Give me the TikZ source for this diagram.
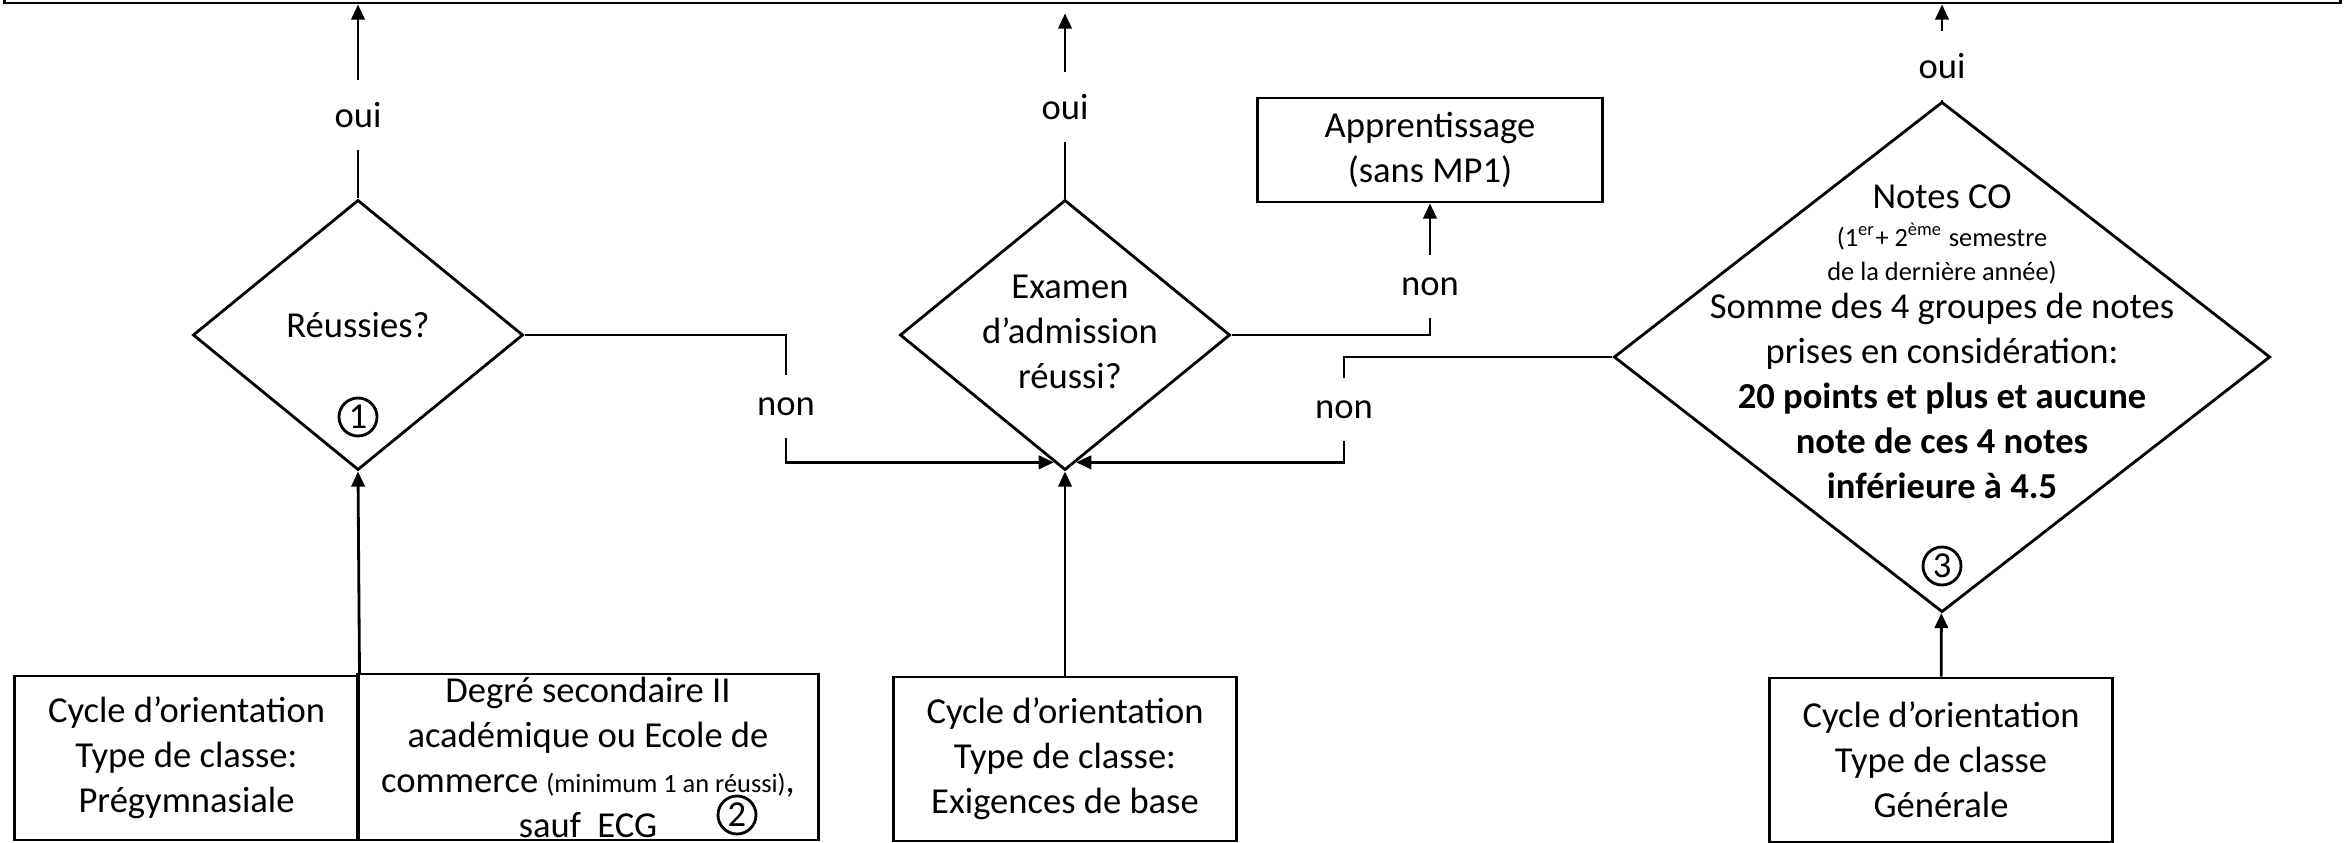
\documentclass[tikz,border=0pt]{standalone}
\usepackage{fontspec}
\setmainfont{Carlito}
\usepackage{tikz}
\usetikzlibrary{shapes.geometric}
\usetikzlibrary{arrows.meta}
\usepackage{xcolor}

\begin{document}
\begin{tikzpicture}[x=0.01cm,y=-0.01cm,
font=\fontsize{10.4}{12.8}\selectfont,
line width=0.8pt,
>={Triangle[length=4.3pt,width=3.8pt]},
box/.style={draw,rectangle,align=center,inner sep=0pt,minimum width=3.43cm,minimum height=1.64cm},
decision/.style={draw,diamond,inner sep=0pt,minimum width=3.3cm,minimum height=2.7cm},
answer/.style={inner sep=6pt},
num/.style={draw,circle,inner sep=0pt,minimum size=0.38cm}]
\useasboundingbox (0,0) rectangle (2351,843);
%\draw[help lines] (0,0) grid[step=1cm] (2351,843);

\node[draw,inner sep=0pt,minimum width=23.35cm,minimum height=1cm] (frame) at (1172.5,-47) {};

\node[decision] (d1) at (358,335) {};
\node (t1) at (358,325) {Réussies?};
\node[num] (n1) at (358,417) {1};

\node[decision] (d2) at (1065,335) {};
\node[align=center] (t2) at (1070,332) {Examen\\d’admission\\réussi?};

\node[decision,minimum width=6.56cm,minimum height=5.1cm] (d3) at (1942,357) {};
\node[align=center,inner sep=0pt,anchor=north] (t3) at (1942,183)
  {Notes CO\\[-2pt]
   {\fontsize{7.5}{9}\selectfont(1\textsuperscript{er}+ 2\textsuperscript{ème} semestre}\\[-3pt]
   {\fontsize{7.5}{9}\selectfont de la dernière année)}\\[-2pt]
   Somme des 4 groupes de notes\\
   prises en considération:\\
   \textbf{20 points et plus et aucune}\\
   \textbf{note de ces 4 notes}\\
   \textbf{inférieure à 4.5}};
\node[num] (n3) at (1942,566) {3};

\node[box,minimum width=3.45cm,minimum height=1.04cm] (appr) at (1430,150) {Apprentissage\\(sans MP1)};

\node[box] (pregym) at (186.5,758) {Cycle d’orientation\\Type de classe:\\Prégymnasiale};
\node[box,minimum width=4.6cm,minimum height=1.66cm] (degre) at (588,757)
  {Degré secondaire II\\académique ou Ecole de\\commerce {\fontsize{7.5}{9}\selectfont(minimum 1 an réussi)},\\sauf\ \ ECG};
\node[num] (n2) at (737,815) {2};
\node[box] (basic) at (1065,759) {Cycle d’orientation\\Type de classe:\\Exigences de base};
\node[box] (generale) at (1941,760) {Cycle d’orientation\\Type de classe\\Générale};

\node[answer] (oui1) at (358,115) {oui};
\node[answer] (oui2) at (1065,107) {oui};
\node[answer] (oui3) at (1942,66) {oui};
\node[answer] (non1) at (786,407) {non};
\node[answer] (non2) at (1344,410) {non};
\node[answer] (non3) at (1430,287) {non};

\draw (d1) -- (oui1);
\draw[->] (oui1) -- (oui1 |- frame.south);
\draw (d2) -- (oui2);
\draw[->,shorten >=0.09cm] (oui2) -- (oui2 |- frame.south);
\draw (d3) -- (oui3);
\draw[->] (oui3) -- (oui3 |- frame.south);

\draw (d1.east) -| (non1.north);
\draw[->] (non1.south) |- (d2.-95);
\draw (d3.west) -| (non2.north);
\draw[->] (non2.south) |- (d2.-85);
\draw (d2.east) -| (non3.south);
\draw[->] (non3) -- (appr);

\draw[->] (pregym.north east) -- (d1.south);
\draw[->] (basic) -- (d2);
\draw[->] (generale) -- (d3);
\end{tikzpicture}
\end{document}
